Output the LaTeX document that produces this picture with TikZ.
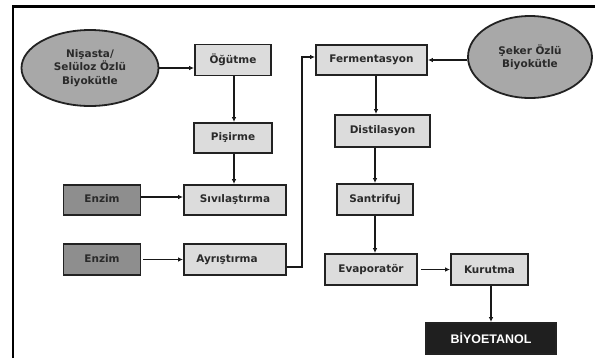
\documentclass[tikz,border=0pt]{standalone}
\usepackage{fontspec}
\setmainfont{DejaVu Sans}
\newfontfamily\arialfont{Liberation Sans}
\usetikzlibrary{arrows.meta,shapes.geometric}
\definecolor{boxfill}{HTML}{DCDCDC}
\definecolor{enzfill}{HTML}{8E8E8E}
\definecolor{ellfill}{HTML}{A8A8A8}
\definecolor{txt}{HTML}{2A2A2A}
\definecolor{edge}{HTML}{222222}
\tikzset{
  proc/.style={draw=edge, line width=1.8bp, fill=boxfill, inner sep=0pt, minimum height=31bp,
    text=txt, font=\bfseries\fontsize{10.5}{13.5}\selectfont},
  enz/.style={proc, fill=enzfill, minimum width=77bp},
  src/.style={ellipse, draw=edge, line width=1.8bp, fill=ellfill, inner sep=0pt, align=center,
    text=txt, font=\bfseries\fontsize{10.5}{13.5}\selectfont},
  final/.style={draw=edge, line width=1.8bp, fill=black!88, inner sep=0pt, minimum height=31bp,
    minimum width=130bp, text=white, font=\arialfont\bfseries\fontsize{12.5}{14}\selectfont},
  arr/.style={draw=black!90, line width=1.5bp, -{Latex[length=5bp,width=4.5bp]}},
  frame/.style={line width=2.8bp, black}
}
\begin{document}
\begin{tikzpicture}[x=1bp,y=-1bp]
\useasboundingbox (0,0) rectangle (595,358);
\fill[white] (0,0) rectangle (595,358);
\draw[frame] (13,358) -- (13,6.5) -- (595,6.5);

\node[src, minimum width=137bp, minimum height=76bp] (nis) at (90,68) {Nişasta/\\Selüloz Özlü\\Biyokütle};
\node[proc, minimum width=76bp] (ogut) at (233,60) {Öğütme};
\node[proc, minimum width=78bp, minimum height=30bp] (pis) at (233,138) {Pişirme};
\node[proc, minimum width=102bp, minimum height=30bp] (siv) at (235,200) {Sıvılaştırma};
\node[enz, minimum height=30bp] (enz1) at (102,200) {\raisebox{2bp}{Enzim}};
\node[enz] (enz2) at (102,259.5) {\raisebox{2bp}{Enzim}};
\node[proc, minimum width=102bp] (ayr) at (235,259.5) {\raisebox{2bp}{Ayrıştırma}\hspace*{16bp}};

\node[proc, minimum width=111bp, minimum height=30bp] (ferm) at (371.5,60) {Fermentasyon};
\node[src, minimum width=124bp, minimum height=82bp] (seker) at (530,57) {Şeker Özlü\\Biyokütle};
\node[proc, minimum width=95bp, minimum height=32bp] (dist) at (382.5,131) {Distilasyon};
\node[proc, minimum width=76bp] (sant) at (375,199.5) {Santrifuj};
\node[proc, minimum width=92bp] (evap) at (371,269.5) {Evaporatör};
\node[proc, minimum width=77bp] (kur) at (489.5,269.5) {Kurutma};
\node[final] (bio) at (491,338.5) {BİYOETANOL};

\draw[arr] (nis.east) -- (nis.east -| ogut.west);
\draw[arr] ([xshift=1bp]ogut.south) -- ([xshift=1bp]ogut.south |- pis.north);
\draw[arr] ([xshift=1bp]pis.south) -- ([xshift=1bp]pis.south |- siv.north);
\draw[arr] ([yshift=3bp]enz1.east) -- ([yshift=3bp]enz1.east -| siv.west);
\draw[arr] ([xshift=2bp]enz2.east) -- (enz2.east -| ayr.west);
\draw[arr] ([yshift=-7.5bp]ayr.east) -- ++(15,0) |- ([yshift=3bp]ferm.west);
\draw[arr] (seker.west |- ferm.east) -- (ferm.east);
\draw[arr] ([xshift=4.5bp]ferm.south) -- ([xshift=4.5bp]ferm.south |- dist.north);
\draw[arr] (dist.south -| sant.north) -- (sant.north);
\draw[arr] (sant.south) -- (sant.south |- evap.north);
\draw[arr] ([xshift=3bp]evap.east) -- (kur.west);
\draw[arr] (bio.north |- kur.south) -- (bio.north);
\end{tikzpicture}
\end{document}
